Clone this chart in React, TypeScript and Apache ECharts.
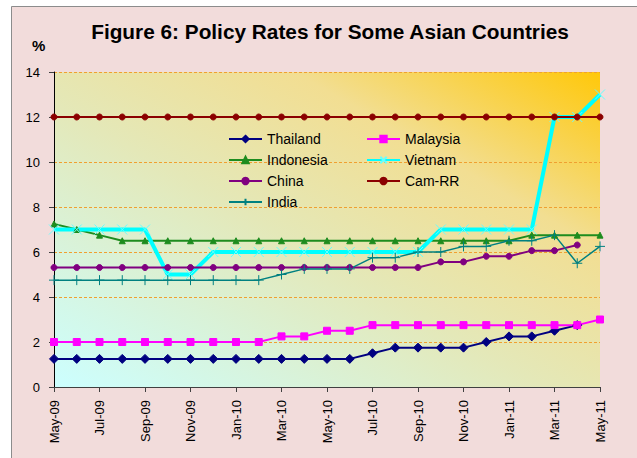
import React, { useEffect, useRef } from "react";
import * as echarts from "echarts";

const months = [
  "May-09", "Jun-09", "Jul-09", "Aug-09", "Sep-09", "Oct-09", "Nov-09", "Dec-09",
  "Jan-10", "Feb-10", "Mar-10", "Apr-10", "May-10", "Jun-10", "Jul-10", "Aug-10",
  "Sep-10", "Oct-10", "Nov-10", "Dec-10", "Jan-11", "Feb-11", "Mar-11", "Apr-11", "May-11",
];

const thailand = [1.25, 1.25, 1.25, 1.25, 1.25, 1.25, 1.25, 1.25, 1.25, 1.25, 1.25, 1.25, 1.25, 1.25, 1.5, 1.75, 1.75, 1.75, 1.75, 2.0, 2.25, 2.25, 2.5, 2.75, null];
const malaysia = [2.0, 2.0, 2.0, 2.0, 2.0, 2.0, 2.0, 2.0, 2.0, 2.0, 2.25, 2.25, 2.5, 2.5, 2.75, 2.75, 2.75, 2.75, 2.75, 2.75, 2.75, 2.75, 2.75, 2.75, 3.0];
const indonesia = [7.25, 7.0, 6.75, 6.5, 6.5, 6.5, 6.5, 6.5, 6.5, 6.5, 6.5, 6.5, 6.5, 6.5, 6.5, 6.5, 6.5, 6.5, 6.5, 6.5, 6.5, 6.75, 6.75, 6.75, 6.75];
const vietnam = [7, 7, 7, 7, 7, 5, 5, 6, 6, 6, 6, 6, 6, 6, 6, 6, 6, 7, 7, 7, 7, 7, 12, 12, 13];
const china = [5.31, 5.31, 5.31, 5.31, 5.31, 5.31, 5.31, 5.31, 5.31, 5.31, 5.31, 5.31, 5.31, 5.31, 5.31, 5.31, 5.31, 5.56, 5.56, 5.81, 5.81, 6.06, 6.06, 6.31, null];
const camRR = [12, 12, 12, 12, 12, 12, 12, 12, 12, 12, 12, 12, 12, 12, 12, 12, 12, 12, 12, 12, 12, 12, 12, 12, 12];
const india = [4.75, 4.75, 4.75, 4.75, 4.75, 4.75, 4.75, 4.75, 4.75, 4.75, 5.0, 5.25, 5.25, 5.25, 5.75, 5.75, 6.0, 6.0, 6.25, 6.25, 6.5, 6.5, 6.75, 5.5, 6.25];

const FONT = 'Arial, "Liberation Sans", sans-serif';
const X_PATH = "path://M0,0L10,10M10,0L0,10";
const PLUS_PATH = "path://M5,0L5,10M0,5L10,5";

export default function App() {
  const ref = useRef<HTMLDivElement>(null);

  useEffect(() => {
    if (!ref.current) return;
    const chart = echarts.init(ref.current, null, { renderer: "svg" });

    const line = (name: string, data: (number | null)[], color: string, symbol: string, symbolSize: number, width: number, extra: any = {}) => ({
      name,
      type: "line",
      data,
      symbol,
      symbolSize,
      showSymbol: true,
      connectNulls: false,
      lineStyle: { color, width },
      itemStyle: { color, borderColor: color, borderWidth: 1 },
      emphasis: { disabled: true },
      ...extra,
    });

    const legendText = { fontSize: 14, fontFamily: FONT, color: "#000" };

    chart.setOption({
      animation: false,
      backgroundColor: "#ffffff",
      textStyle: { fontFamily: FONT },
      graphic: [
        {
          type: "rect",
          z: -10,
          shape: { x: 11.5, y: 6.5, width: 700, height: 500 },
          style: { fill: "#f2dcdb", stroke: "#8c8c8c", lineWidth: 1 },
        },
        {
          type: "text",
          x: 330,
          y: 21,
          style: {
            text: "Figure 6: Policy Rates for Some Asian Countries",
            font: `bold 20.8px ${FONT}`,
            fill: "#000",
            align: "center",
            verticalAlign: "top",
          },
        },
        {
          type: "text",
          x: 32,
          y: 38,
          style: { text: "%", font: `bold 15px ${FONT}`, fill: "#000" },
        },
      ],
      legend: [
        {
          orient: "vertical",
          left: 223,
          top: 127,
          itemWidth: 33,
          itemHeight: 8,
          itemGap: 7,
          data: ["Thailand", "Indonesia", "China", "India"],
          textStyle: legendText,
        },
        {
          orient: "vertical",
          left: 361,
          top: 127,
          itemWidth: 33,
          itemHeight: 8,
          itemGap: 7,
          data: ["Malaysia", "Vietnam", "Cam-RR"],
          textStyle: legendText,
        },
      ],
      grid: {
        left: 54,
        top: 72,
        right: 37,
        bottom: 71,
        show: true,
        borderWidth: 0,
        backgroundColor: new echarts.graphic.LinearGradient(0, 1, 1, 0, [
          { offset: 0, color: "#ccffff" },
          { offset: 0.45, color: "#e4e8b8" },
          { offset: 0.72, color: "#f2de92" },
          { offset: 1, color: "#ffc80a" },
        ]),
      },
      xAxis: {
        type: "category",
        data: months,
        boundaryGap: false,
        axisLine: { lineStyle: { color: "#404040", width: 1 } },
        axisTick: { interval: 1, length: 5, lineStyle: { color: "#404040" } },
        axisLabel: {
          interval: 1,
          rotate: 90,
          margin: 13,
          fontSize: 13,
          fontFamily: FONT,
          color: "#000",
        },
        splitLine: { show: false },
      },
      yAxis: {
        type: "value",
        min: 0,
        max: 14,
        interval: 2,
        axisLine: { show: true, lineStyle: { color: "#000", width: 1 } },
        axisTick: { show: true, length: 5, lineStyle: { color: "#404040" } },
        axisLabel: { margin: 14, fontSize: 13, fontFamily: FONT, color: "#000" },
        splitLine: { show: true, lineStyle: { color: "#f0a030", type: [3, 2], width: 1 } },
      },
      series: [
        line("Thailand", thailand, "#000080", "diamond", 9, 2),
        line("Malaysia", malaysia, "#ff00ff", "rect", 7, 2),
        line("Indonesia", indonesia, "#1e8c1e", "triangle", 6, 2),
        line("Vietnam", vietnam, "#00ffff", X_PATH, 10, 4, {
          itemStyle: { color: "#00ffff", borderColor: "#66ffff", borderWidth: 1 },
        }),
        line("China", china, "#800080", "circle", 6, 2),
        line("Cam-RR", camRR, "#8b0000", "circle", 6, 2),
        line("India", india, "#008080", PLUS_PATH, 10, 1.5, {
          itemStyle: { color: "#008080", borderColor: "#008080", borderWidth: 1 },
        }),
      ],
    });

    return () => chart.dispose();
  }, []);

  return (
    <div
      ref={ref}
      style={{ position: "fixed", left: 0, top: 0, width: 637, height: 458 }}
    />
  );
}
